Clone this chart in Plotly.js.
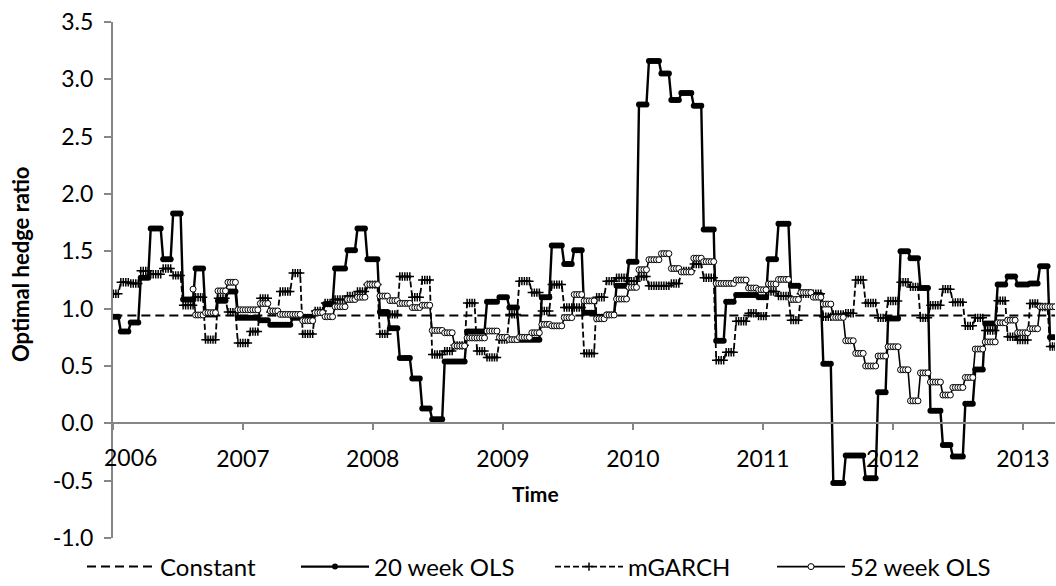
<!DOCTYPE html>
<html><head><meta charset="utf-8">
<script src="https://cdn.plot.ly/plotly-3.0.1.min.js"></script>
<style>html,body{margin:0;padding:0;background:#fff}#chart{width:1056px;height:586px}</style>
</head><body><div id="chart"></div>
<script>
// ---------- data (hedge ratios re-estimated monthly, observed weekly) ----------
// block k = month k counted from Jan 2006 (k0 = Jan 2006 ... k87 = Apr 2013)
const seriesNames = ['Constant', '20 week OLS', 'mGARCH', '52 week OLS'];
const constantRatio = 0.94;
const ols20 = [
  0.93,0.80,0.88,1.27,1.70,1.43,1.83,1.08,1.35,0.95,1.07,1.15,
  0.92,0.92,0.90,0.86,0.86,0.92,0.93,0.97,1.04,1.35,1.51,1.70,
  1.43,0.97,0.83,0.57,0.39,0.13,0.035,0.54,0.54,0.80,0.80,1.06,
  1.10,1.01,0.73,0.73,1.10,1.55,1.39,1.51,0.965,0.93,0.95,1.20,
  1.41,2.78,3.16,3.05,2.82,2.88,2.77,1.69,0.72,1.06,1.12,1.12,
  1.10,1.43,1.74,1.20,1.14,1.12,0.52,-0.52,-0.28,-0.28,-0.48,0.27,
  0.915,1.50,1.44,1.18,0.11,-0.19,-0.29,0.17,0.47,0.87,1.21,1.28,
  1.21,1.22,1.37,0.75
];
const mgarch = [
  1.13,1.23,1.22,1.33,1.30,1.35,1.29,1.03,1.10,0.73,1.09,0.97,
  0.70,0.80,1.09,0.97,1.15,1.31,0.78,0.98,1.05,1.08,1.11,1.15,
  1.21,0.78,0.95,1.28,1.10,1.25,0.60,0.63,0.68,1.05,0.63,0.575,
  0.73,0.95,1.24,1.14,0.98,1.21,1.01,1.01,0.61,1.10,1.24,1.27,
  1.24,1.28,1.20,1.20,1.22,1.33,1.39,1.27,0.55,0.62,0.89,0.96,
  0.935,1.15,1.11,0.90,1.13,1.13,0.93,0.95,0.96,1.25,1.05,0.92,
  1.067,1.23,1.19,0.92,1.03,1.17,1.055,0.85,0.92,0.81,1.07,0.755,
  0.727,1.045,1.015,0.67
];
const ols52 = [
  null,null,null,null,null,null,null,1.17,0.945,0.965,1.155,1.23,
  0.99,0.99,1.045,0.98,0.95,0.95,0.895,0.965,0.93,1.017,1.08,1.10,
  1.21,1.11,1.07,1.046,1.01,1.03,0.81,0.79,0.675,0.745,0.745,0.805,
  0.75,0.73,0.75,0.79,0.863,0.85,0.922,1.123,1.068,0.912,0.945,1.084,
  1.186,1.34,1.427,1.48,1.35,1.32,1.44,1.41,1.22,1.22,1.25,1.18,
  1.165,1.215,1.255,1.08,1.14,1.10,1.04,0.924,0.72,0.61,0.50,0.587,
  0.668,0.467,0.196,0.44,0.36,0.247,0.313,0.40,0.648,0.71,0.877,0.90,
  0.79,0.825,1.017,1.017
];
const ols52Start = '2006-08-14';
const firstWeek = '2006-01-02';
const lastWeek = '2013-04-01';
const yTickVals = [-1.0,-0.5,0.0,0.5,1.0,1.5,2.0,2.5,3.0,3.5];
const yTickText = ['-1.0','-0.5','0.0','0.5','1.0','1.5','2.0','2.5','3.0','3.5'];
const xTickYears = ['2006','2007','2008','2009','2010','2011','2012','2013'];

// ---------- weekly observation dates, each mapped to its estimation block ----------
const DAY = 864e5;
const weeks = [];
for (let t = Date.parse(firstWeek); t <= Date.parse(lastWeek); t += 7 * DAY) weeks.push(t);
const blockOf = t => { const s = new Date(t + 15 * DAY); return (s.getUTCFullYear() - 2006) * 12 + s.getUTCMonth(); };
const xDates = weeks.map(t => new Date(t).toISOString().slice(0, 10));
const weekly = (arr, start) => weeks.map(t => (start && t < Date.parse(start)) ? null : (arr[blockOf(t)] ?? null));

const FONT = 'Lato, "Open Sans", "DejaVu Sans", sans-serif';
const AX = '#868686';

const traces = [
  { name: seriesNames[0], x: xDates, y: weeks.map(() => constantRatio), mode: 'lines',
    line: { color: '#000', width: 2, dash: '9px,5px' }, legend: 'legend' },
  { name: seriesNames[1], x: xDates, y: weekly(ols20), mode: 'lines+markers',
    line: { color: '#000', width: 2.4 }, marker: { symbol: 'circle', size: 6, color: '#000' }, legend: 'legend2' },
  { name: seriesNames[2], x: xDates, y: weekly(mgarch), mode: 'lines+markers',
    line: { color: '#000', width: 1.8, dash: '6px,3px' },
    marker: { symbol: 'cross-thin', size: 6, color: '#000', line: { color: '#000', width: 1.5 } }, legend: 'legend3' },
  { name: seriesNames[3], x: xDates, y: weekly(ols52, ols52Start), mode: 'lines+markers',
    line: { color: '#000', width: 1.6 }, marker: { symbol: 'circle', size: 6, color: '#fff', line: { color: '#000', width: 1 } }, legend: 'legend4' }
];

const legBase = { orientation: 'h', xref: 'container', yref: 'container', yanchor: 'middle', xanchor: 'left',
  y: 19 / 586, font: { family: FONT, size: 24, color: '#000' }, itemwidth: 68, bgcolor: 'rgba(0,0,0,0)' };

const layout = {
  width: 1056, height: 586,
  margin: { l: 113, r: 1, t: 22, b: 48, pad: 0 },
  paper_bgcolor: '#fff', plot_bgcolor: '#fff',
  font: { family: FONT, size: 23, color: '#000' },
  xaxis: {
    type: 'date', range: ['2006-01-01', '2013-04-01'],
    tickvals: xTickYears.map(y => y + '-01-01'),
    ticktext: xTickYears.map((y, i) => i === 0 ? '' : y),
    anchor: 'free', position: 1 / 4.5,
    showline: true, linecolor: AX, linewidth: 2,
    ticks: 'outside', ticklen: 6, tickwidth: 2, tickcolor: AX, ticklabelstandoff: 9,
    showgrid: false, zeroline: false,
    tickfont: { family: FONT, size: 23, color: '#000' }
  },
  yaxis: {
    range: [-1, 3.5], tickvals: yTickVals, ticktext: yTickText,
    showline: true, linecolor: AX, linewidth: 2,
    ticks: 'outside', ticklen: 7, tickwidth: 2, tickcolor: AX, ticklabelstandoff: 6,
    showgrid: false, zeroline: false,
    tickfont: { family: FONT, size: 23, color: '#000' }
  },
  showlegend: true,
  legend: Object.assign({}, legBase, { x: 82 / 1056 }),
  legend2: Object.assign({}, legBase, { x: 296 / 1056 }),
  legend3: Object.assign({}, legBase, { x: 550 / 1056 }),
  legend4: Object.assign({}, legBase, { x: 772 / 1056 }),
  annotations: [
    { text: xTickYears[0], xref: 'x', yref: 'paper', x: xTickYears[0] + '-01-01', xshift: 17,
      y: (538 - 457) / 516, showarrow: false, xanchor: 'center', yanchor: 'middle',
      font: { family: FONT, size: 23, color: '#000' } },
    { text: '<b>Optimal hedge ratio</b>', textangle: -90, xref: 'paper', yref: 'paper',
      x: (20 - 113) / 942, y: (538 - 264) / 516, showarrow: false, xanchor: 'center', yanchor: 'middle',
      font: { family: FONT, size: 22, color: '#000' } },
    { text: '<b>Time</b>', xref: 'paper', yref: 'paper',
      x: (535 - 113) / 942, y: (538 - 493) / 516, showarrow: false, xanchor: 'center', yanchor: 'middle',
      font: { family: FONT, size: 21, color: '#000' } }
  ]
};

Plotly.newPlot('chart', traces, layout, { displayModeBar: false, staticPlot: true });
</script>
</body></html>
